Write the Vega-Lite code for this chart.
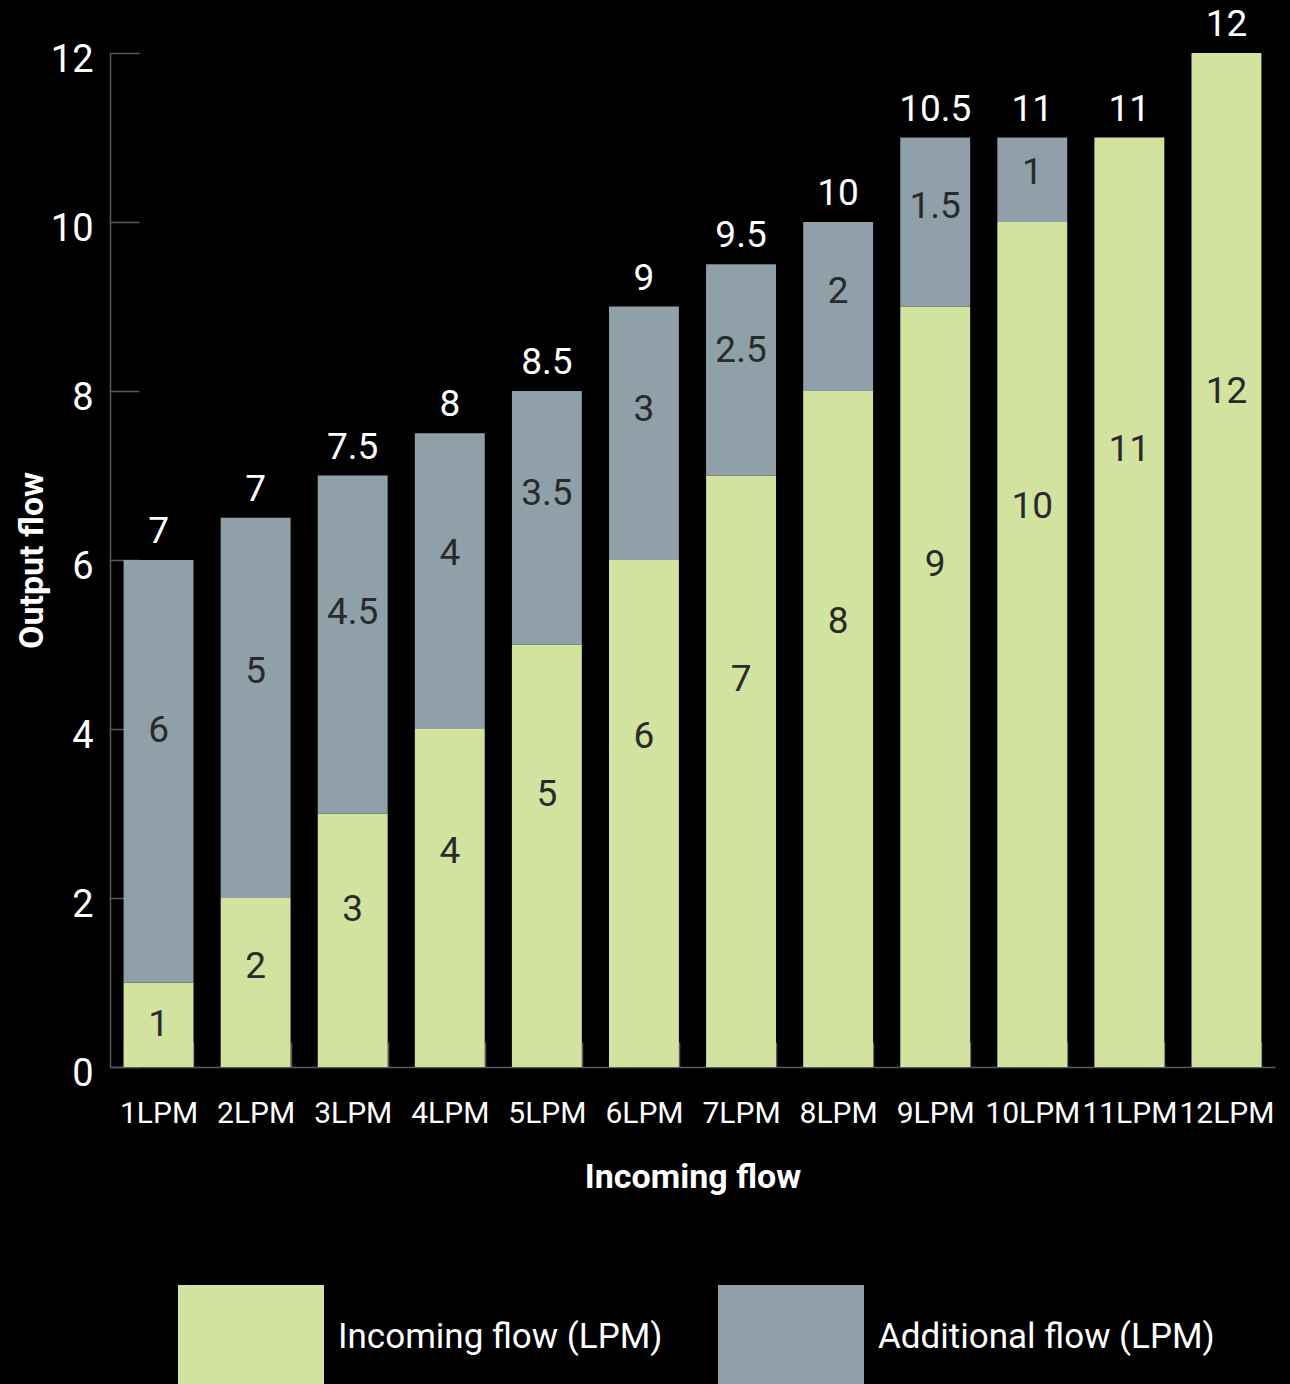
{
  "$schema": "https://vega.github.io/schema/vega-lite/v6.json",
  "background": "#000000",
  "autosize": "none",
  "padding": {"left": 110, "top": 53, "right": 15, "bottom": 317},
  "width": 1165,
  "height": 1014,
  "config": {
    "view": {"stroke": null},
    "font": "Roboto",
    "axis": {"domainColor": "#5a5a5a", "domainWidth": 1.5, "tickColor": "#5a5a5a", "tickWidth": 1.5, "labelColor": "#ffffff", "titleColor": "#ffffff", "grid": false, "labelFont": "Roboto", "titleFont": "Roboto"},
    "axisX": {"labelFontSize": 30, "labelAngle": 0, "tickBand": "extent", "tickSize": -25, "labelPadding": 71, "labelBaseline": "middle", "titleFontSize": 34, "titleFontWeight": "bold", "titleY": 110, "titleBaseline": "middle"},
    "axisY": {"labelFontSize": 38, "tickSize": -29, "labelPadding": 46, "labelBaseline": "middle", "labelOffset": 7, "titleFontSize": 34, "titleFontWeight": "bold", "titleX": -78, "titleY": 507, "titleBaseline": "middle"},
    "legend": {"orient": "none", "legendX": 68, "legendY": 1211, "direction": "horizontal", "symbolType": "M-1,-0.712H1V1.3H-1Z", "symbolSize": 21316, "symbolStrokeWidth": 0, "symbolOpacity": 1, "labelFontSize": 35, "labelColor": "#ffffff", "labelFont": "Roboto", "labelOffset": 14, "columnPadding": 55, "labelLimit": 600, "padding": 0}
  },
  "data": {
    "values": [
      {"flow": "1LPM", "series": "Incoming flow (LPM)", "value": 1, "label": "1", "total": ""},
      {"flow": "1LPM", "series": "Additional flow (LPM)", "value": 5, "label": "6", "total": "7"},
      {"flow": "2LPM", "series": "Incoming flow (LPM)", "value": 2, "label": "2", "total": ""},
      {"flow": "2LPM", "series": "Additional flow (LPM)", "value": 4.5, "label": "5", "total": "7"},
      {"flow": "3LPM", "series": "Incoming flow (LPM)", "value": 3, "label": "3", "total": ""},
      {"flow": "3LPM", "series": "Additional flow (LPM)", "value": 4, "label": "4.5", "total": "7.5"},
      {"flow": "4LPM", "series": "Incoming flow (LPM)", "value": 4, "label": "4", "total": ""},
      {"flow": "4LPM", "series": "Additional flow (LPM)", "value": 3.5, "label": "4", "total": "8"},
      {"flow": "5LPM", "series": "Incoming flow (LPM)", "value": 5, "label": "5", "total": ""},
      {"flow": "5LPM", "series": "Additional flow (LPM)", "value": 3, "label": "3.5", "total": "8.5"},
      {"flow": "6LPM", "series": "Incoming flow (LPM)", "value": 6, "label": "6", "total": ""},
      {"flow": "6LPM", "series": "Additional flow (LPM)", "value": 3, "label": "3", "total": "9"},
      {"flow": "7LPM", "series": "Incoming flow (LPM)", "value": 7, "label": "7", "total": ""},
      {"flow": "7LPM", "series": "Additional flow (LPM)", "value": 2.5, "label": "2.5", "total": "9.5"},
      {"flow": "8LPM", "series": "Incoming flow (LPM)", "value": 8, "label": "8", "total": ""},
      {"flow": "8LPM", "series": "Additional flow (LPM)", "value": 2, "label": "2", "total": "10"},
      {"flow": "9LPM", "series": "Incoming flow (LPM)", "value": 9, "label": "9", "total": ""},
      {"flow": "9LPM", "series": "Additional flow (LPM)", "value": 2, "label": "1.5", "total": "10.5"},
      {"flow": "10LPM", "series": "Incoming flow (LPM)", "value": 10, "label": "10", "total": ""},
      {"flow": "10LPM", "series": "Additional flow (LPM)", "value": 1, "label": "1", "total": "11"},
      {"flow": "11LPM", "series": "Incoming flow (LPM)", "value": 11, "label": "11", "total": ""},
      {"flow": "11LPM", "series": "Additional flow (LPM)", "value": 0, "label": "", "total": "11"},
      {"flow": "12LPM", "series": "Incoming flow (LPM)", "value": 12, "label": "12", "total": ""},
      {"flow": "12LPM", "series": "Additional flow (LPM)", "value": 0, "label": "", "total": "12"}
    ]
  },
  "encoding": {
    "x": {"field": "flow", "type": "nominal", "sort": null, "title": "Incoming flow", "scale": {"paddingInner": 0.28, "paddingOuter": 0.14}},
    "y": {"field": "value", "type": "quantitative", "stack": "zero", "title": "Output flow", "scale": {"domain": [0, 12], "nice": false}, "axis": {"values": [0, 2, 4, 6, 8, 10, 12], "format": "d"}},
    "order": {"field": "series", "sort": "descending"}
  },
  "layer": [
    {
      "mark": {"type": "bar"},
      "encoding": {
        "color": {"field": "series", "type": "nominal", "title": null, "sort": ["Incoming flow (LPM)", "Additional flow (LPM)"], "scale": {"domain": ["Incoming flow (LPM)", "Additional flow (LPM)"], "range": ["#d2e3a0", "#8fa0a9"]}}
      }
    },
    {
      "mark": {"type": "text", "fontSize": 37, "color": "#2a2a2a", "baseline": "middle", "dy": 15},
      "encoding": {
        "detail": {"field": "series", "type": "nominal"},
        "y": {"field": "value", "type": "quantitative", "stack": "zero", "title": "Output flow", "bandPosition": 0.68},
        "text": {"condition": {"test": "datum.series !== 'Incoming flow (LPM)'", "value": ""}, "field": "label", "type": "nominal"}
      }
    },
    {
      "mark": {"type": "text", "fontSize": 37, "color": "#2a2a2a", "baseline": "middle", "dy": 2},
      "encoding": {
        "detail": {"field": "series", "type": "nominal"},
        "y": {"field": "value", "type": "quantitative", "stack": "zero", "title": "Output flow", "bandPosition": 0.6},
        "text": {"condition": {"test": "datum.series !== 'Additional flow (LPM)'", "value": ""}, "field": "label", "type": "nominal"}
      }
    },
    {
      "mark": {"type": "text", "fontSize": 37, "color": "#ffffff", "baseline": "middle", "dy": -28},
      "encoding": {
        "detail": {"field": "series", "type": "nominal"},
        "text": {"field": "total", "type": "nominal"}
      }
    }
  ]
}
